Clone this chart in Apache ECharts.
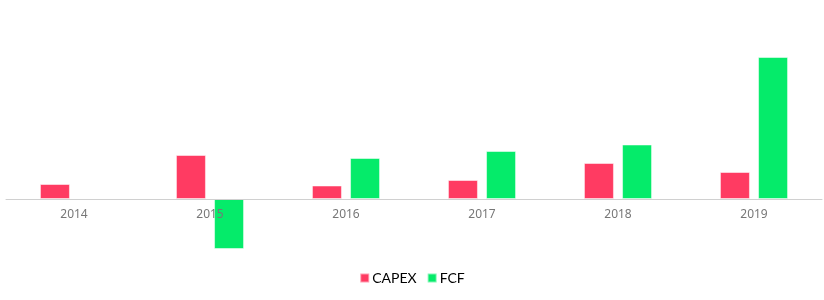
<!DOCTYPE html>
<html>
<head>
<meta charset="utf-8">
<style>
    html, body { margin: 0; padding: 0; background: #fff; }
    #chart { width: 824px; height: 300px; }
</style>
<script src="https://cdn.jsdelivr.net/npm/echarts@6/dist/echarts.min.js"></script>
</head>
<body>
<div id="chart"></div>
<script>
var years = ["2014", "2015", "2016", "2017", "2018", "2019"];
var capex = [15, 44, 13.5, 19, 36, 27];
var fcf = [null, -50, 41, 48, 54.5, 142];

(function () {
    var myChart = echarts.init(document.getElementById("chart"));
    var option = {
        color: ["#ff3b62", "#05eb6a"],
        textStyle: { fontFamily: "Noto Sans" },
        legend: {
            bottom: 10,
            itemWidth: 9,
            itemHeight: 9,
            itemGap: 10,
            icon: "rect",
            textStyle: { color: "#000", fontSize: 14, fontFamily: "Lato", padding: [0, 0, 0, -2] },
            data: ["CAPEX", "FCF"]
        },
        grid: {
            left: 6,
            right: 2,
            top: 19,
            bottom: 41
        },
        xAxis: {
            type: "category",
            data: years,
            z: 5,
            // 轴线放到0的位置（y轴隐藏时用offset）
            offset: -60,
            axisTick: { show: false },
            axisLine: { onZero: false, lineStyle: { color: "#d0d0d0", width: 1 } },
            axisLabel: { color: "#777", fontSize: 12, margin: 10 }
        },
        yAxis: {
            type: "value",
            min: -60,
            max: 180,
            show: false,
            splitLine: { show: false }
        },
        series: [
            {
                name: "CAPEX",
                type: "bar",
                data: capex,
                barWidth: 30,
                barGap: "27%",
                itemStyle: { borderColor: "rgba(255,255,255,0.5)", borderWidth: 1 }
            },
            {
                name: "FCF",
                type: "bar",
                data: fcf,
                barWidth: 30,
                itemStyle: { borderColor: "rgba(255,255,255,0.5)", borderWidth: 1 }
            }
        ]
    };
    myChart.setOption(option);
    window.addEventListener("resize", function () {
        myChart.resize();
    });
})();
</script>
</body>
</html>
